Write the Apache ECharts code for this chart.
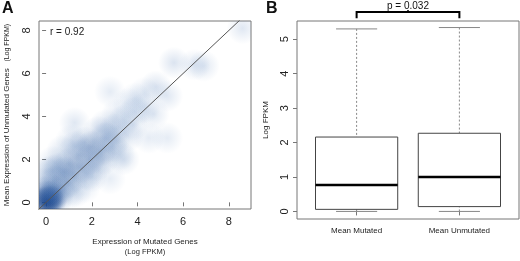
<!DOCTYPE html>
<html>
<head>
<meta charset="utf-8">
<script src="https://cdn.jsdelivr.net/npm/echarts@6/dist/echarts.min.js"></script>
<style>
  html, body { margin: 0; padding: 0; background: #fff; }
  #chart { width: 520px; height: 261px; }
</style>
</head>
<body>
<div id="chart"></div>
<script>
// panel A: smoothed scatter, blobs (x, y, relative density)
const densX = [0, 0.1, 0.2, 0.05, 0.3, 0.5, 0.2, 0.6, 0.0, 0.4, 0.9, 0.8, 1.2, 0.3, 1.0, 1.5, 1.4, 1.9, 2.0, 2.4, 1.7, 2.6, 2.9, 3.0, 2.3, 3.4, 3.6, 3.9, 1.3, 2.0, 0.7, 0.3, 1.1, 2.2, 3.2, 3.4, 2.8, 1.7, 4.3,
  0.6, 1.3, 2.6, 3.1, 3.6, 2.5, 1.8, 1.0, 3.0, 3.8, 0.0, -0.1,
  1.25, 2.8, 3.9, 4.8, 5.3, 4.7, 4.5, 5.3, 5.6, 6.5, 6.9, 8.6, 4.3]
const densY = [0, 0.1, 0.05, 0.3, 0.3, 0.2, 0.6, 0.6, 0.9, 1.0, 0.9, 1.4, 1.2, 1.5, 1.8, 1.6, 2.2, 2.0, 2.6, 2.4, 2.8, 3.0, 2.6, 3.4, 3.3, 3.8, 3.1, 4.2, 0.5, 1.2, 2.4, 1.9, 2.9, 1.7, 2.2, 2.0, 1.1, 0.7, 4.4,
  1.6, 2.6, 3.6, 4.1, 4.6, 2.0, 1.3, 0.4, 2.9, 3.6, 1.4, 0.5,
  3.7, 5.15, 4.85, 5.4, 4.95, 4.1, 3.0, 3.0, 6.5, 6.4, 6.35, 8.1, 5.1]
const densLevel = [1, 1, 0.9, 0.85, 0.75, 0.55, 0.55, 0.5, 0.4, 0.45, 0.5, 0.5, 0.5, 0.4, 0.5, 0.5, 0.5, 0.55, 0.55, 0.5, 0.45, 0.45, 0.4, 0.4, 0.35, 0.3, 0.3, 0.3, 0.3, 0.3, 0.3, 0.3, 0.25, 0.35, 0.3, 0.3, 0.2, 0.2, 0.25,
  0.4, 0.35, 0.3, 0.25, 0.2, 0.4, 0.35, 0.3, 0.35, 0.25, 0.3, 0.4,
  0.28, 0.22, 0.22, 0.32, 0.28, 0.28, 0.22, 0.22, 0.32, 0.28, 0.28, 0.28, 0.22]
const axisTicksA = [0, 2, 4, 6, 8]
const corr = 'r = 0.92'

// panel B: boxplot stats
const boxCats = ['Mean Mutated', 'Mean Unmutated']
const boxLow = [0, 0]
const boxQ1 = [0.06, 0.14]
const boxMed = [0.77, 1.0]
const boxQ3 = [2.16, 2.27]
const boxHigh = [5.30, 5.34]
const axisTicksB = [0, 1, 2, 3, 4, 5]
const pText = 'p = 0.032'

const chart = echarts.init(document.getElementById('chart'))
const font = 'Liberation Sans, Arial, sans-serif'
const gridLine = '#777'

const densData = densX.map((x, i) => [x, densY[i], densLevel[i]])
const boxData = boxCats.map((c, i) => [i + 1, boxLow[i], boxQ1[i], boxMed[i], boxQ3[i], boxHigh[i]])

function blob(params, api) {
  const p = api.coord([api.value(0), api.value(1)])
  const d = api.value(2)
  const r = Math.round(120 - 110 * d)
  const g = Math.round(160 - 105 * d)
  const b = Math.round(210 - 80 * d)
  const a = 0.1 + 0.55 * Math.pow(d, 1.4)
  return {
    type: 'circle',
    shape: { cx: p[0], cy: p[1], r: 16 },
    style: {
      fill: new echarts.graphic.RadialGradient(0.5, 0.5, 0.5, [
        { offset: 0, color: `rgba(${r},${g},${b},${a})` },
        { offset: 0.4, color: `rgba(${r},${g},${b},${a * 0.6})` },
        { offset: 1, color: `rgba(${r},${g},${b},0)` }
      ])
    }
  }
}

function boxItem(params, api) {
  const x = api.value(0)
  const lo = api.coord([x, api.value(1)])
  const q1 = api.coord([x - 0.4, api.value(2)])
  const q1r = api.coord([x + 0.4, api.value(2)])
  const md = api.value(3)
  const q3 = api.coord([x + 0.4, api.value(4)])
  const hi = api.coord([x, api.value(5)])
  const capL = api.coord([x - 0.2, 0])[0]
  const capR = api.coord([x + 0.2, 0])[0]
  const mL = api.coord([x - 0.4, md])
  const mR = api.coord([x + 0.4, md])
  const grey = { stroke: '#888', lineWidth: 1 }
  return {
    type: 'group',
    children: [
      { type: 'line', shape: { x1: hi[0], y1: hi[1], x2: hi[0], y2: q3[1] }, style: { stroke: '#888', lineWidth: 1, lineDash: [2, 2] } },
      { type: 'line', shape: { x1: lo[0], y1: lo[1], x2: lo[0], y2: q1[1] }, style: { stroke: '#888', lineWidth: 1, lineDash: [2, 2] } },
      { type: 'line', shape: { x1: capL, y1: hi[1], x2: capR, y2: hi[1] }, style: grey },
      { type: 'line', shape: { x1: capL, y1: lo[1], x2: capR, y2: lo[1] }, style: grey },
      { type: 'rect', shape: { x: q1[0], y: q3[1], width: q1r[0] - q1[0], height: q1[1] - q3[1] }, style: { fill: '#fff', stroke: '#444', lineWidth: 1 } },
      { type: 'line', shape: { x1: mL[0], y1: mL[1], x2: mR[0], y2: mR[1] }, style: { stroke: '#000', lineWidth: 2.5 } }
    ]
  }
}

// significance bracket above the two boxes
function bracket(params, api) {
  if (params.dataIndex > 0) return
  const a = api.coord([1, 5.79])
  const b = api.coord([2, 5.79])
  const legY = api.coord([1, 5.61])[1]
  const mid = (a[0] + b[0]) / 2
  return {
    type: 'group',
    children: [
      { type: 'polyline', shape: { points: [[a[0], legY], a, b, [b[0], legY]] }, style: { stroke: '#000', lineWidth: 2, fill: null } },
      { type: 'line', shape: { x1: mid, y1: a[1], x2: mid, y2: a[1] - 2 }, style: { stroke: '#000', lineWidth: 1.5 } },
      { type: 'text', x: mid, y: a[1] - 1, style: { text: pText, font: '10px ' + font, fill: '#111', align: 'center', verticalAlign: 'bottom' } }
    ]
  }
}

const baseAxis = {
  axisLine: { show: false },
  splitLine: { show: false },
  axisTick: { show: true, length: 4, inside: false, lineStyle: { color: gridLine } },
  axisLabel: { fontFamily: font, fontSize: 11, color: '#222' }
}

const option = {
  animation: false,
  backgroundColor: '#fff',
  textStyle: { fontFamily: font },
  grid: [
    { left: 32, top: 21, width: 219, height: 197, show: true, borderColor: gridLine, borderWidth: 1, backgroundColor: 'transparent' },
    { left: 297, top: 21, width: 222, height: 198, show: true, borderColor: gridLine, borderWidth: 1, backgroundColor: 'transparent' }
  ],
  graphic: [
    { type: 'text', left: 2, top: 1, style: { text: 'A', font: 'bold 16px ' + font, fill: '#111' } },
    { type: 'text', left: 266, top: 1, style: { text: 'B', font: 'bold 16px ' + font, fill: '#111' } },
    { type: 'text', left: 50, top: 27, style: { text: corr, font: '10px ' + font, fill: '#222' } }
  ],
  xAxis: [
    Object.assign({}, baseAxis, {
      gridIndex: 0, type: 'value', min: -0.31, max: 8.97,
      axisTick: Object.assign({}, baseAxis.axisTick, { customValues: axisTicksA }),
      axisLabel: Object.assign({}, baseAxis.axisLabel, { customValues: axisTicksA, margin: 7 }),
      name: '{a|Expression of Mutated Genes}\n{b|(Log FPKM)}', nameLocation: 'middle', nameGap: 28,
      nameTextStyle: { rich: { a: { fontSize: 8, fontFamily: font, color: '#222', lineHeight: 10 }, b: { fontSize: 7.5, fontFamily: font, color: '#222', lineHeight: 10 } } }
    }),
    Object.assign({}, baseAxis, {
      gridIndex: 1, type: 'value', min: 0.42, max: 2.58,
      axisTick: Object.assign({}, baseAxis.axisTick, { customValues: [1, 2] }),
      axisLabel: Object.assign({}, baseAxis.axisLabel, { customValues: [1, 2], fontSize: 8, margin: 8, formatter: v => boxCats[Math.round(v) - 1] })
    })
  ],
  yAxis: [
    Object.assign({}, baseAxis, {
      gridIndex: 0, type: 'value', min: -0.31, max: 8.44,
      axisTick: Object.assign({}, baseAxis.axisTick, { customValues: axisTicksA }),
      axisLabel: Object.assign({}, baseAxis.axisLabel, { customValues: axisTicksA, rotate: 90, margin: 7 }),
      name: '{a|Mean Expression of Unmutated Genes}  {b|(Log FPKM)}', nameLocation: 'middle', nameGap: 26, nameRotate: 90,
      nameTextStyle: { rich: { a: { fontSize: 8, fontFamily: font, color: '#222' }, b: { fontSize: 7, fontFamily: font, color: '#222' } } }
    }),
    Object.assign({}, baseAxis, {
      gridIndex: 1, type: 'value', min: -0.22, max: 5.53,
      axisTick: Object.assign({}, baseAxis.axisTick, { customValues: axisTicksB }),
      axisLabel: Object.assign({}, baseAxis.axisLabel, { customValues: axisTicksB, rotate: 90, margin: 7 }),
      name: 'Log FPKM', nameLocation: 'middle', nameGap: 27, nameRotate: 90,
      nameTextStyle: { fontSize: 8, fontFamily: font, color: '#222' }
    })
  ],
  series: [
    { type: 'custom', xAxisIndex: 0, yAxisIndex: 0, clip: true, renderItem: blob, data: densData, silent: true, z: 1 },
    {
      type: 'line', xAxisIndex: 0, yAxisIndex: 0, data: [[-1, -1], [10, 10]], clip: true, z: 5,
      symbol: 'none', lineStyle: { color: '#555', width: 1 }, silent: true
    },
    { type: 'custom', xAxisIndex: 1, yAxisIndex: 1, renderItem: boxItem, data: boxData, silent: true },
    { type: 'custom', xAxisIndex: 1, yAxisIndex: 1, clip: false, renderItem: bracket, data: boxData, silent: true }
  ]
}

chart.setOption(option)
</script>
</body>
</html>
